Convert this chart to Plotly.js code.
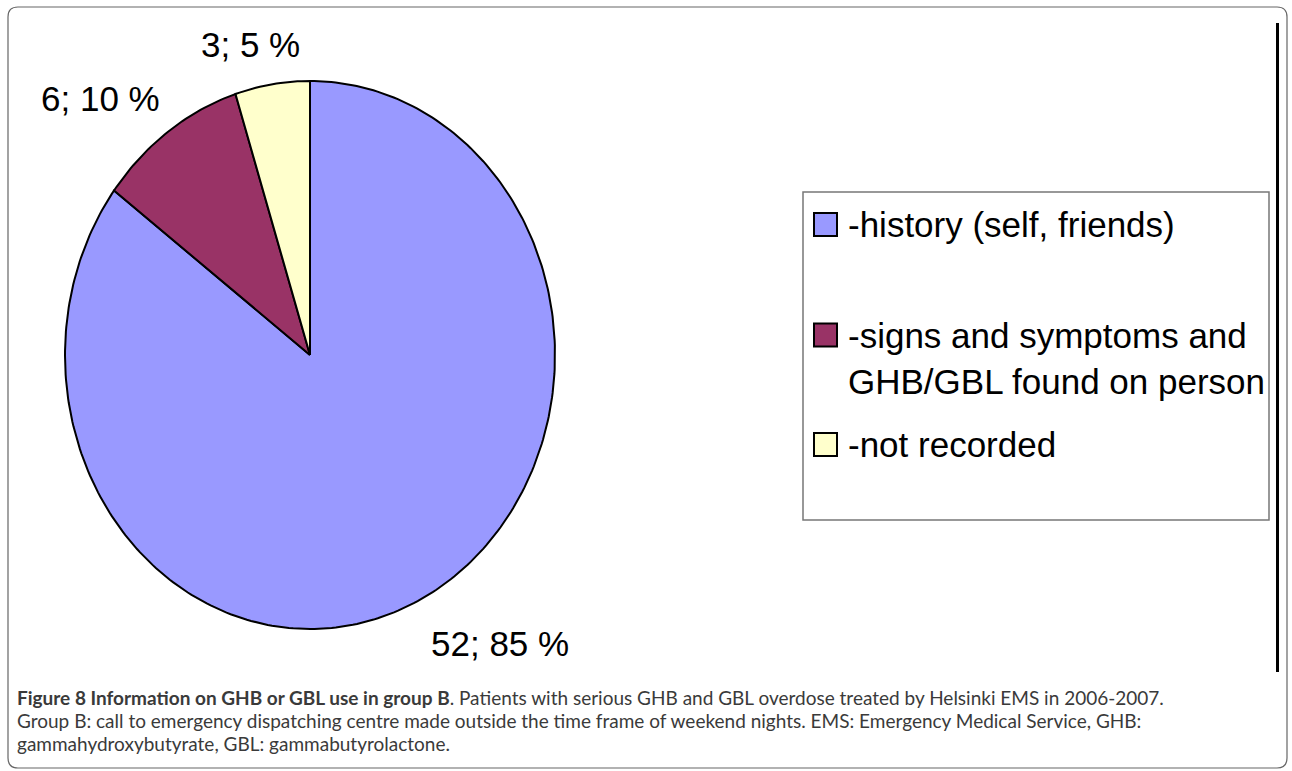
<!DOCTYPE html>
<html>
<head>
<meta charset="utf-8">
<script src="https://cdn.plot.ly/plotly-3.0.1.min.js"></script>
<style>html,body{margin:0;padding:0;background:#fff;}#chart{width:1292px;height:771px;}</style>
</head>
<body>
<div id="chart"></div>
<script>
// ---- data ----
const categories = ['-history (self, friends)', '-signs and symptoms and GHB/GBL found on person', '-not recorded'];
const legendText = ['-history (self, friends)', '-signs and symptoms and<br>GHB/GBL found on person', '-not recorded'];
const counts = [52, 6, 3];
const percents = [85, 10, 5];
const colors = ['#9999FF', '#993366', '#FFFFCC'];
const captionBold = 'Figure 8 Information on GHB or GBL use in group B';
const captionLines = [
  '. Patients with serious GHB and GBL overdose treated by Helsinki EMS in 2006-2007.',
  'Group B: call to emergency dispatching centre made outside the time frame of weekend nights. EMS: Emergency Medical Service, GHB:',
  'gammahydroxybutyrate, GBL: gammabutyrolactone.'
];

// ---- layout helpers (pixel -> paper) ----
const W = 1292, H = 771;
const px = v => v / W;
const py = v => 1 - v / H;

// pie geometry: centre at (310,355) px, radii 245 (x) and 274 (y)
const cx = 310, cy = 355, rx = 245, ry = 274;
const xRange = [-cx / rx, (W - cx) / rx];
const yRange = [-(H - cy) / ry, cy / ry];

const total = counts.reduce((a, b) => a + b, 0);
const traces = [];
let cum = 0;
counts.forEach((c, i) => {
  const a0 = cum / total * 2 * Math.PI;
  cum += c;
  const a1 = cum / total * 2 * Math.PI;
  const xs = [0], ys = [0];
  const n = Math.max(8, Math.ceil((a1 - a0) / (2 * Math.PI) * 360));
  for (let k = 0; k <= n; k++) {
    const a = a0 + (a1 - a0) * k / n;
    // clockwise from 12 o'clock
    xs.push(Math.sin(a));
    ys.push(Math.cos(a));
  }
  xs.push(0); ys.push(0);
  traces.push({
    type: 'scatter', mode: 'lines', x: xs, y: ys, fill: 'toself',
    fillcolor: colors[i], line: { color: '#000', width: 2 },
    name: categories[i], hoverinfo: 'name', showlegend: false
  });
});

const labelFont = { family: 'Liberation Sans, Arial, sans-serif', size: 35, color: '#000' };
const labelPos = [[500, 643], [100, 99], [250, 44]];

const shapes = [
  // outer rounded frame
  { type: 'path', xref: 'paper', yref: 'paper',
    path: (() => {
      const l = 8, t = 7, r = 1287, b = 768, rad = 10;
      const X = v => px(v), Y = v => py(v);
      return `M ${X(l + rad)} ${Y(t)} L ${X(r - rad)} ${Y(t)} Q ${X(r)} ${Y(t)} ${X(r)} ${Y(t + rad)} L ${X(r)} ${Y(b - rad)} Q ${X(r)} ${Y(b)} ${X(r - rad)} ${Y(b)} L ${X(l + rad)} ${Y(b)} Q ${X(l)} ${Y(b)} ${X(l)} ${Y(b - rad)} L ${X(l)} ${Y(t + rad)} Q ${X(l)} ${Y(t)} ${X(l + rad)} ${Y(t)} Z`;
    })(),
    line: { color: '#666', width: 1.2 } },
  // right vertical rule
  { type: 'line', xref: 'paper', yref: 'paper', x0: px(1277.5), x1: px(1277.5), y0: py(23), y1: py(672),
    line: { color: '#000', width: 3 } },
  // legend box
  { type: 'rect', xref: 'paper', yref: 'paper', x0: px(803), x1: px(1269), y0: py(192), y1: py(520),
    line: { color: '#777', width: 1.5 }, fillcolor: 'rgba(0,0,0,0)' }
];

const swatchRows = [224.5, 335, 444.5];
const textRows = [224.5, 358, 444.5];
const annotations = [];
swatchRows.forEach((yc, i) => {
  shapes.push({ type: 'rect', xref: 'paper', yref: 'paper',
    x0: px(814), x1: px(837), y0: py(yc - 11.5), y1: py(yc + 11.5),
    fillcolor: colors[i], line: { color: '#000', width: 2 } });
  annotations.push({ xref: 'paper', yref: 'paper', x: px(846), y: py(textRows[i]), xanchor: 'left', yanchor: 'middle',
    text: legendText[i], showarrow: false, align: 'left', font: labelFont });
});

counts.forEach((c, i) => {
  annotations.push({ xref: 'paper', yref: 'paper', x: px(labelPos[i][0]), y: py(labelPos[i][1]),
    xanchor: 'center', yanchor: 'middle', showarrow: false,
    text: `${c}; ${percents[i]} %`, font: labelFont });
});

const capFont = { family: 'Lato, Open Sans, sans-serif', size: 19, color: '#3a3a3a' };
const capY = [697, 720, 743];
annotations.push({ xref: 'paper', yref: 'paper', x: px(15), y: py(capY[0]), xanchor: 'left', yanchor: 'middle',
  showarrow: false, text: `<b>${captionBold}</b>${captionLines[0]}`, font: capFont });
annotations.push({ xref: 'paper', yref: 'paper', x: px(15), y: py(capY[1]), xanchor: 'left', yanchor: 'middle',
  showarrow: false, text: captionLines[1], font: capFont });
annotations.push({ xref: 'paper', yref: 'paper', x: px(15), y: py(capY[2]), xanchor: 'left', yanchor: 'middle',
  showarrow: false, text: captionLines[2], font: capFont });

const layout = {
  width: W, height: H,
  margin: { l: 0, r: 0, t: 0, b: 0 },
  paper_bgcolor: '#fff', plot_bgcolor: '#fff',
  xaxis: { range: xRange, visible: false, fixedrange: true },
  yaxis: { range: yRange, visible: false, fixedrange: true },
  showlegend: false,
  shapes: shapes,
  annotations: annotations
};

Plotly.newPlot('chart', traces, layout, { displayModeBar: false, staticPlot: true });
</script>
</body>
</html>
